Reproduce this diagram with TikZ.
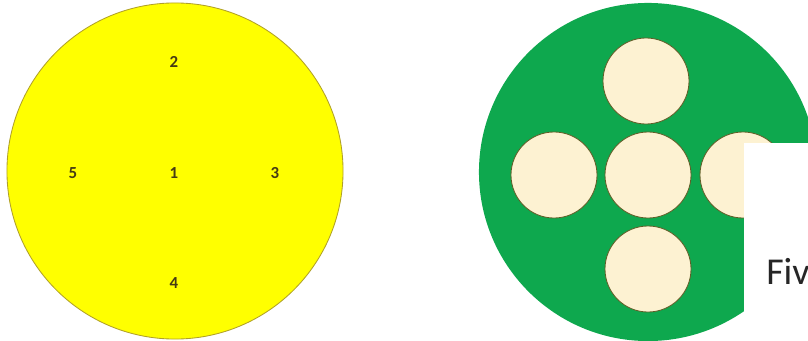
\documentclass[tikz,border=0pt]{standalone}
\usepackage{fontspec}
\setmainfont{Carlito}
\definecolor{padyellow}{RGB}{255,255,0}
\definecolor{padrim}{RGB}{176,160,40}
\definecolor{padgreen}{RGB}{14,168,78}
\definecolor{padcream}{RGB}{253,242,210}
\definecolor{padbrown}{RGB}{95,95,40}
\definecolor{padtext}{RGB}{70,60,20}
\tikzset{
  spotlabel/.style={font=\fontsize{12}{14}\selectfont\bfseries,text=padtext,inner sep=0pt},
  holedisk/.style={circle,fill=padcream,draw=padbrown,line width=0.6pt,minimum size=2.15cm,inner sep=0pt}
}

\begin{document}
\begin{tikzpicture}[x=0.025cm,y=-0.025cm]
    \useasboundingbox (0,0) rectangle (808,341);
    \clip (0,0) rectangle (808,341);
    % Yellow pad with numbered spots
    \node[circle,fill=padyellow,draw=padrim,line width=0.6pt,minimum size=8.4cm,inner sep=0pt] (pad) at (175,171) {};
    \node[spotlabel] (s1) at (174,173) {1};
    \node[spotlabel] (s2) at (174,62) {2};
    \node[spotlabel] (s3) at (275,173) {3};
    \node[spotlabel] (s4) at (174,283) {4};
    \node[spotlabel] (s5) at (73,173) {5};
    % Green pad with five holes
    \node[circle,fill=padgreen,minimum size=8.45cm,inner sep=0pt] (gpad) at (648,172) {};
    \foreach \n/\x/\y in {c/648/175,t/646/81,l/554/175,r/743/175,b/648/269} {
      \node[holedisk] (h\n) at (\x,\y) {};
    }
    % Overlapping caption box
    \fill[white] (744,143) rectangle (812,345);
    \node[anchor=base west,font=\fontsize{27}{32}\selectfont,text=black!85,inner sep=0pt] (cap) at (766,284) {Fiv};
\end{tikzpicture}
\end{document}
